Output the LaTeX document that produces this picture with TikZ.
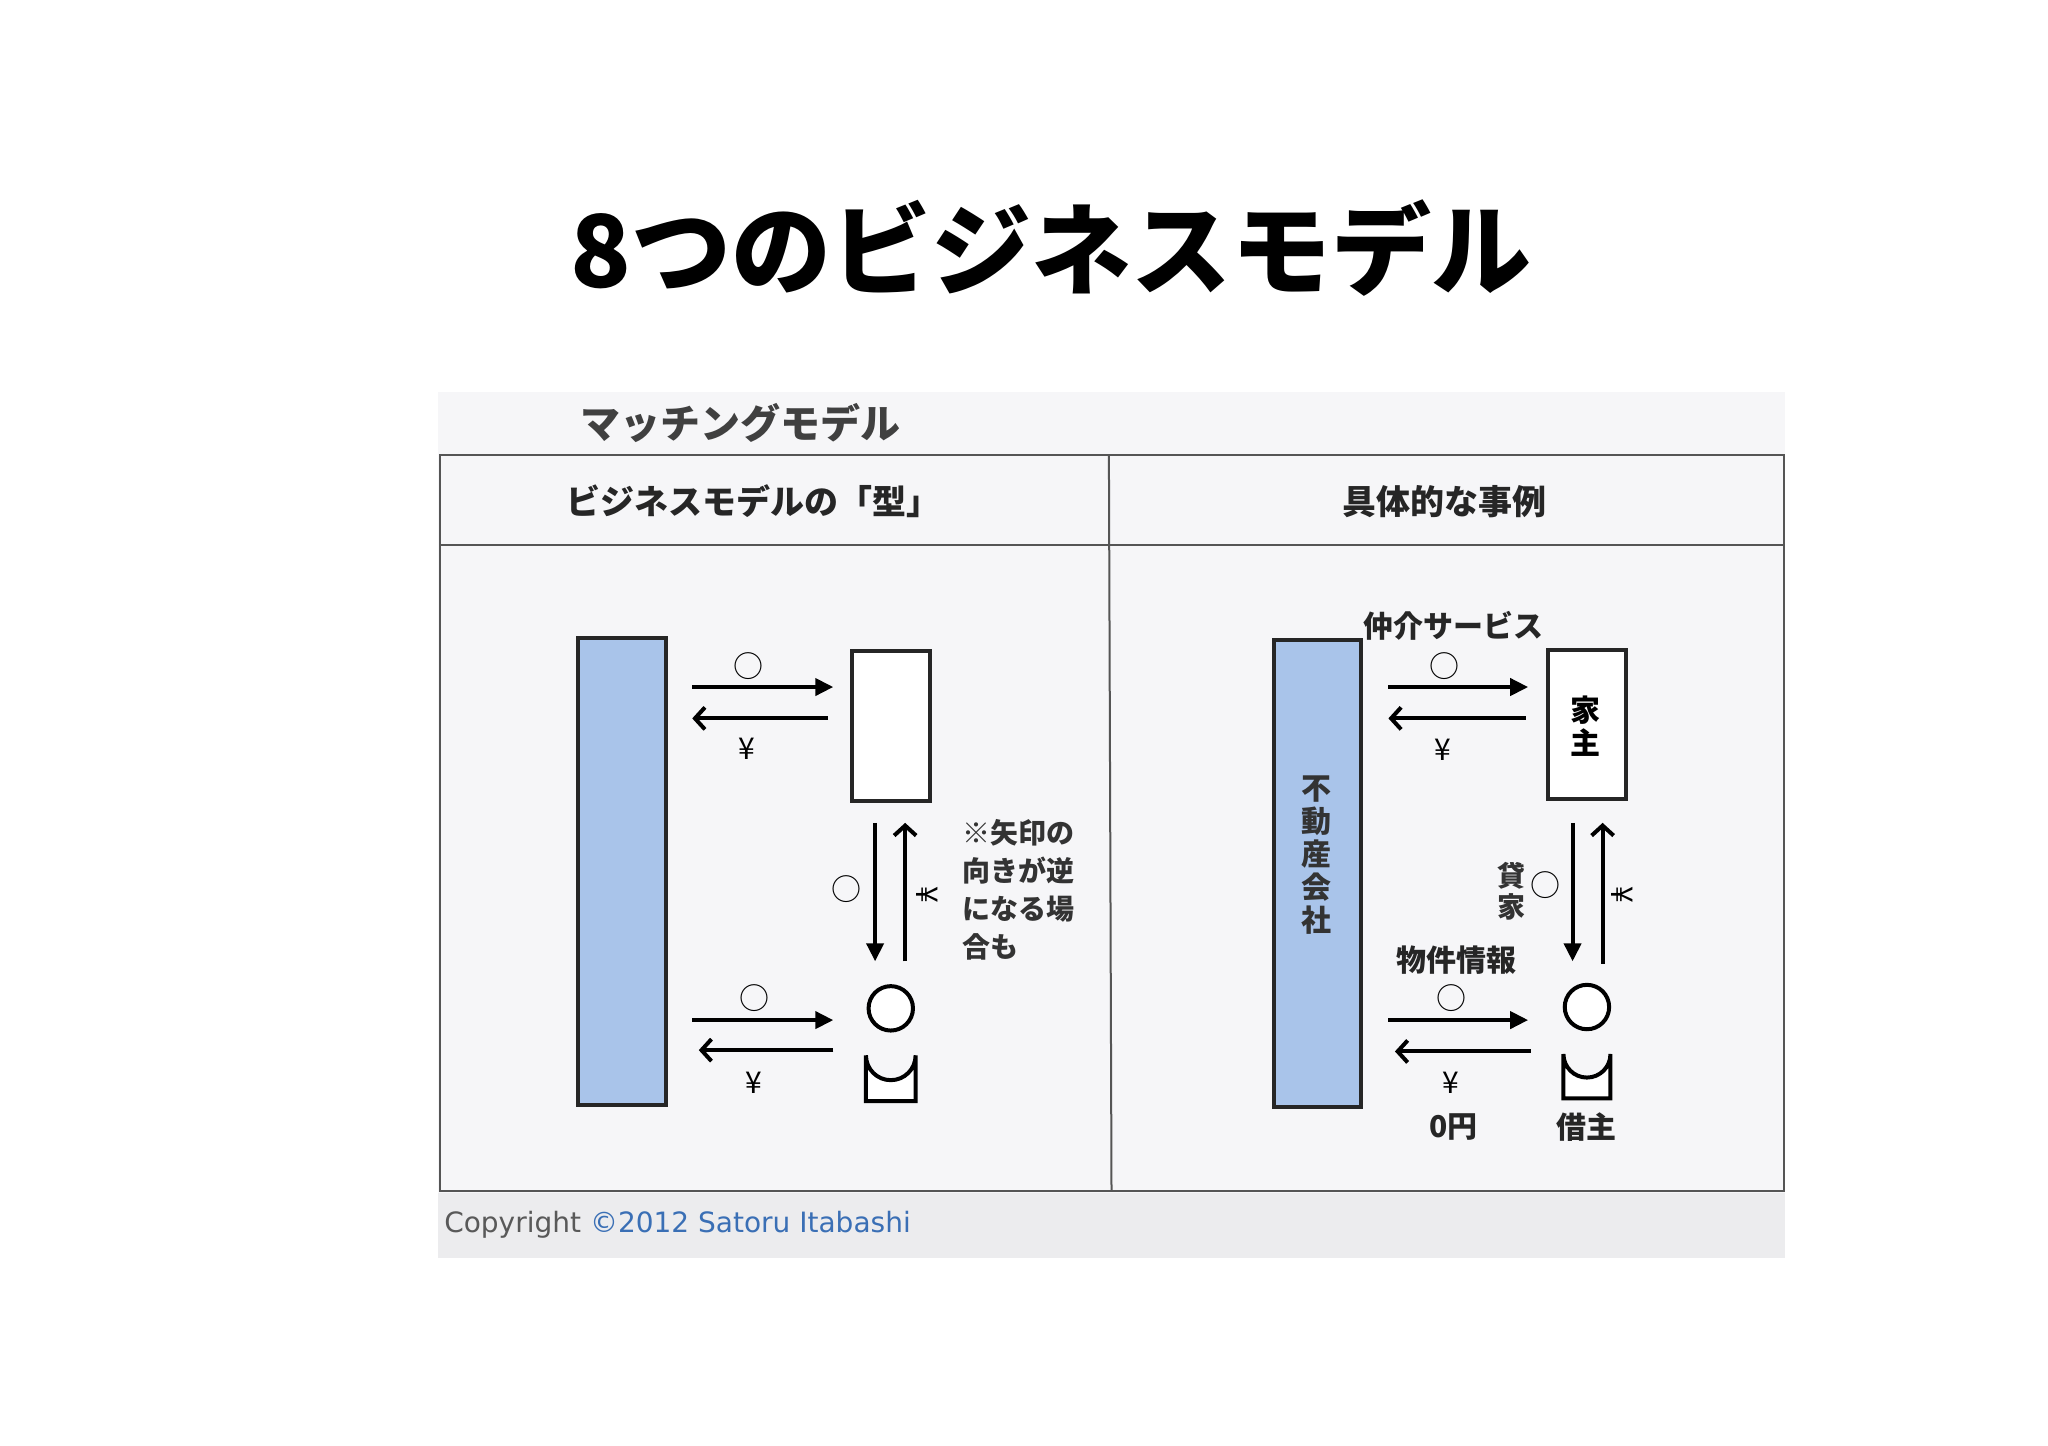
\documentclass[tikz,border=0pt]{standalone}
\usepackage{fontspec}
\setmainfont{Noto Sans CJK JP}
\newfontfamily\jpb{Noto Sans CJK JP}[BoldFont=* Bold]
\newfontfamily\lat{DejaVu Sans}
\usetikzlibrary{arrows.meta}
\definecolor{bluef}{HTML}{A9C4EA}
\definecolor{bgg}{HTML}{F6F6F8}
\definecolor{bandg}{HTML}{ECECEE}
\definecolor{cpblue}{HTML}{3A6FB5}
\definecolor{grid}{HTML}{555555}
\tikzset{
  fwd/.style={line width=4pt,-{Triangle[length=18pt,width=17pt]}},
  bwd/.style={line width=4pt,-{Straight Barb[length=10pt,width=22pt,line width=4pt]}},
  sym/.style={font=\fontsize{30}{32}\selectfont,inner sep=0pt},
  lbl/.style={font=\fontsize{30}{36}\selectfont\bfseries,inner sep=0pt,text=black!85},
  vlbl/.style={font=\fontsize{30}{32}\selectfont,inner sep=0pt,align=center},
  hdr/.style={font=\fontsize{34}{40}\selectfont\bfseries,text=black!85,inner sep=0pt},
  thick4/.style={line width=4pt}
}
\begin{document}
\begin{tikzpicture}[x=1.30612pt,y=-1.30612pt]
\useasboundingbox (0,0) rectangle (1568,1107);
\fill[white] (0,0) rectangle (1568,1107);
% title
\node[font=\fontsize{100}{110}\selectfont\bfseries,inner sep=0pt] (title) at (805,190) {8つのビジネスモデル};
% background
\fill[bgg] (335,300) rectangle (1367,913);
\fill[bandg] (335,913) rectangle (1367,963);
\node[font=\fontsize{40}{44}\selectfont\bfseries,text=black!75,inner sep=0pt,anchor=west] (sub) at (444,324) {マッチングモデル};
% table
\draw[grid,line width=2pt] (337,348) rectangle (1366,912);
\draw[grid,line width=2pt] (337,417) -- (1366,417);
\draw[grid,line width=2pt] (849,348) -- (851,912);
\node[hdr] (h1) at (577,384) {ビジネスモデルの「型」};
\node[hdr] (h2) at (1106,384) {具体的な事例};

% ---------- left panel
\node[draw=black!85,thick4,fill=bluef,minimum width=88pt,minimum height=467pt,inner sep=0pt] (bigL) at (476,667) {};
\node[draw=black!85,thick4,fill=white,minimum width=78pt,minimum height=150pt,inner sep=0pt] (boxL) at (682,555.5) {};
\coordinate (a1s) at (530,526); \coordinate (a1e) at (638,526);
\coordinate (a2s) at (634,550); \coordinate (a2e) at (530,550);
\draw[fwd] (a1s) -- (a1e);
\draw[bwd] (a2s) -- (a2e);
\node[sym] (o1) at (573,510) {○};
\node[sym] (y1) at (572,573) {¥};
\coordinate (v1s) at (670,630); \coordinate (v1e) at (670,736);
\coordinate (v2s) at (693,736); \coordinate (v2e) at (693,630);
\draw[fwd] (v1s) -- (v1e);
\draw[bwd] (v2s) -- (v2e);
\node[sym] (o2) at (648,681) {○};
\node[sym,rotate=-90] (y2) at (710,685) {¥};
\node[font=\fontsize{28}{38}\selectfont\bfseries,text=black!80,align=left,anchor=north west,inner sep=0pt] (note) at (737,627) {※矢印の\\向きが逆\\になる場\\合も};
% person left
\draw[thick4,fill=white] (682,772) ellipse (17 and 17);
\draw[thick4,fill=white] (663,843) -- (663,808) arc[start angle=180,end angle=0,x radius=19,y radius=19] -- (701,843) -- cycle;
\coordinate (b1s) at (530,781); \coordinate (b1e) at (638,781);
\coordinate (b2s) at (638,804); \coordinate (b2e) at (535,804);
\draw[fwd] (b1s) -- (b1e);
\draw[bwd] (b2s) -- (b2e);
\node[sym] (o3) at (578,764) {○};
\node[sym] (y3) at (577,829) {¥};

% ---------- right panel
\node[draw=black!85,thick4,fill=bluef,minimum width=87pt,minimum height=467pt,inner sep=0pt] (bigR) at (1008.5,669) {};
\node[vlbl,font=\fontsize{30}{33}\selectfont\bfseries,text=black!80] (fudo) at (1008,655) {不\\動\\産\\会\\社};
\node[draw=black!85,thick4,fill=white,minimum width=78pt,minimum height=149pt,inner sep=0pt] (boxR) at (1215,555) {};
\node[vlbl,font=\fontsize{30}{33}\selectfont\bfseries] (yanushi) at (1214,556) {家\\主};
\node[lbl] (chukai) at (1113,479) {仲介サービス};
\coordinate (c1s) at (1063,526); \coordinate (c1e) at (1170,526);
\coordinate (c2s) at (1168,550); \coordinate (c2e) at (1063,550);
\draw[fwd] (c1s) -- (c1e);
\draw[bwd] (c2s) -- (c2e);
\node[sym] (o4) at (1106,510) {○};
\node[sym] (y4) at (1105,574) {¥};
\coordinate (w1s) at (1204,630); \coordinate (w1e) at (1204,736);
\coordinate (w2s) at (1227,738); \coordinate (w2e) at (1227,630);
\draw[fwd] (w1s) -- (w1e);
\draw[bwd] (w2s) -- (w2e);
\node[vlbl,font=\fontsize{28}{31}\selectfont\bfseries,text=black!80] (kashiya) at (1157,682) {貸\\家};
\node[sym] (o5) at (1183,678) {○};
\node[sym,rotate=-90] (y5) at (1242,685) {¥};
\node[lbl] (bukken) at (1115,735) {物件情報};
\draw[thick4,fill=white] (1215,771) ellipse (17 and 17);
\draw[thick4,fill=white] (1197,841) -- (1197,807) arc[start angle=180,end angle=0,x radius=18,y radius=18] -- (1233,841) -- cycle;
\coordinate (d1s) at (1063,781); \coordinate (d1e) at (1170,781);
\coordinate (d2s) at (1172,805); \coordinate (d2e) at (1068,805);
\draw[fwd] (d1s) -- (d1e);
\draw[bwd] (d2s) -- (d2e);
\node[sym] (o6) at (1111,764) {○};
\node[sym] (y6) at (1111,829) {¥};
\node[lbl] (zero) at (1113,863) {0円};
\node[lbl] (karinushi) at (1215,863) {借主};

% copyright
\node[font=\lat\fontsize{28}{30}\selectfont,anchor=west,inner sep=0pt] (copy) at (340,938) {\textcolor{black!65}{Copyright} \textcolor{cpblue}{©2012 Satoru Itabashi}};
\end{tikzpicture}
\end{document}
